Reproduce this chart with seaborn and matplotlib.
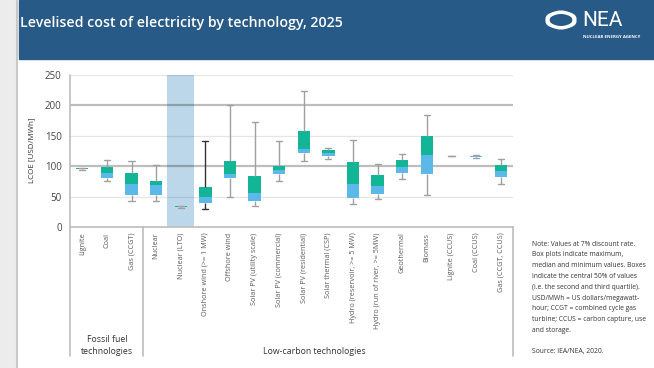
import numpy as np
import pandas as pd
import matplotlib
matplotlib.use("Agg")
import matplotlib.pyplot as plt
from matplotlib.patches import Rectangle, Ellipse
from matplotlib.lines import Line2D
import seaborn as sns

# ---- data (USD/MWh) ----
techs = ["Lignite", "Coal", "Gas (CCGT)", "Nuclear", "Nuclear (LTO)",
         "Onshore wind (>= 1 MW)", "Offshore wind", "Solar PV (utility scale)",
         "Solar PV (commercial)", "Solar PV (residential)", "Solar thermal (CSP)",
         "Hydro (reservoir, >= 5 MW)", "Hydro (run of river, >= 5MW)",
         "Geothermal", "Biomass", "Lignite (CCUS)", "Coal (CCUS)", "Gas (CCGT, CCUS)"]
mins    = [94, 76, 42, 42, 31, 30, 50, 35, 75, 109, 112, 38, 46, 79, 53, 116, 113, 71]
q1s     = [95, 80, 52, 53, 32.5, 40, 80, 43, 87, 122, 117, 48, 55, 89, 87, 116, 115.5, 83]
medians = [96, 89, 71, 68.5, 33.5, 50, 87, 56.5, 94, 127.5, 122, 71, 68, 99, 118, 116, 116.5, 92]
q3s     = [97, 98, 88, 75, 34.5, 65, 108.5, 84.5, 100, 158.5, 126.5, 107, 85, 109.5, 150, 116, 117.5, 101.5]
maxs    = [97, 111, 108, 101.5, 35, 141, 201, 173, 142, 224, 130, 143, 104, 120, 184, 116, 119, 112]

yticks = [0, 50, 100, 150, 200, 250]

TEAL = "#12b596"
BLUE = "#5bb8e8"
HEADER = "#285a87"

rows = []
for t, a, b, c, d, e in zip(techs, mins, q1s, medians, q3s, maxs):
    for v in (a, b, c, d, e):
        rows.append({"tech": t, "value": v})
df = pd.DataFrame(rows)

sns.set_style("white")
plt.rcParams["font.family"] = ["Open Sans", "DejaVu Sans"]

W, H = 654, 368
fig = plt.figure(figsize=(W / 100, H / 100), dpi=100)
fx = lambda px: px / W
fy = lambda py: 1 - py / H

# background / frame pieces
fig.patches.append(Rectangle((0, 0), fx(16), 1, transform=fig.transFigure,
                             color="#ececec", zorder=0))
fig.lines.append(Line2D([fx(17), fx(17)], [0, 1], transform=fig.transFigure,
                        color="#c9c9c9", lw=1.5))
fig.patches.append(Rectangle((fx(19), fy(59)), 1 - fx(19), fy(0) - fy(59),
                             transform=fig.transFigure, color=HEADER, zorder=1))
fig.text(fx(20), fy(23), "Levelised cost of electricity by technology, 2025",
         color="white", fontsize=10.2, fontweight="semibold", va="center", ha="left")

# NEA logo (approximation)
fig.text(fx(582), fy(21), "NEA", color="white", fontsize=15, va="center",
         ha="left", family=["Roboto", "DejaVu Sans"])
fig.text(fx(583), fy(37), "NUCLEAR ENERGY AGENCY", color="white", fontsize=3.2,
         va="center", ha="left", fontweight="bold")
for ang in (30, -30, 90):
    fig.patches.append(Ellipse((fx(561), fy(20)), fx(30) - fx(0), fy(0) - fy(14),
                               angle=ang, transform=fig.transFigure, fill=False,
                               ec="white", lw=1.6, zorder=3))

# main axes
ax = fig.add_axes([fx(70), fy(227), fx(513) - fx(70), fy(75) - fy(227)])
ax.set_facecolor("white")

ax.axvspan(4 - 0.55, 4 + 0.55, color="#bdd7ea", zorder=0, lw=0)
for yv in yticks[1:]:
    if yv in (100, 200):
        ax.axhline(yv, color="black", alpha=0.26, lw=1.6, zorder=0.5)
    else:
        ax.axhline(yv, color="black", alpha=0.10, lw=0.9, zorder=0.5)

sns.boxplot(data=df, x="tech", y="value", order=techs, whis=(0, 100),
            width=0.5, color=TEAL, saturation=1, linecolor="#a0a0a0",
            linewidth=1.0, fliersize=0, showfliers=False,
            medianprops=dict(linewidth=0), boxprops=dict(linewidth=0),
            ax=ax)

# onshore wind whiskers are drawn darker in the original
for ln in ax.lines:
    xd = np.asarray(ln.get_xdata(), dtype=float)
    if xd.size and abs(xd.mean() - 5) < 0.01:
        ln.set_color("#333333")

xpos = np.arange(len(techs))
ax.bar(xpos, np.array(medians) - np.array(q1s), bottom=q1s, width=0.5,
       color=BLUE, lw=0, zorder=3)

ax.set_xlim(-0.5, len(techs) - 0.5)
ax.set_ylim(0, 250)
ax.set_yticks(yticks)
ax.set_yticklabels([str(v) for v in yticks], fontsize=7, color="#444444")
ax.set_xticks(xpos)
ax.set_xticklabels(techs, rotation=90, fontsize=5.2, color="#5a5a5a")
ax.tick_params(axis="both", length=0)
ax.tick_params(axis="x", pad=4)
ax.tick_params(axis="y", pad=6)
ax.set_xlabel("")
ax.set_ylabel("")
for s in ("top", "right", "left"):
    ax.spines[s].set_visible(False)
ax.spines["bottom"].set_color("#bcbcbc")
ax.spines["bottom"].set_linewidth(1.2)

fig.text(fx(32), fy(150), "LCOE [USD/MWh]", rotation=90, fontsize=5.8,
         color="#333333", va="center", ha="center")

# axis frame lines extending below plot
for xp, y0 in ((70, 75), (143, 227), (513, 227)):
    fig.lines.append(Line2D([fx(xp), fx(xp)], [fy(y0), fy(356)],
                            transform=fig.transFigure, color="#bcbcbc", lw=1.2))

fig.text(fx(107), fy(339), "Fossil fuel", fontsize=6.3,
         color="#333333", ha="center", va="center")
fig.text(fx(107), fy(352), "technologies", fontsize=6.3,
         color="#333333", ha="center", va="center")
fig.text(fx(314), fy(352), "Low-carbon technologies", fontsize=6.3,
         color="#333333", ha="center", va="center")

note_lines = ["Note: Values at 7% discount rate.",
              "Box plots indicate maximum,",
              "median and minimum values. Boxes",
              "indicate the central 50% of values",
              "(i.e. the second and third quartile).",
              "USD/MWh = US dollars/megawatt-",
              "hour; CCGT = combined cycle gas",
              "turbine; CCUS = carbon capture, use",
              "and storage."]
for i, line in enumerate(note_lines):
    fig.text(fx(532), fy(244 + i * 10.8), line, fontsize=4.9, color="#333333",
             ha="left", va="center")
fig.text(fx(532), fy(352), "Source: IEA/NEA, 2020.", fontsize=4.9,
         color="#333333", ha="left", va="center")

fig.savefig("out.png", dpi=100)
